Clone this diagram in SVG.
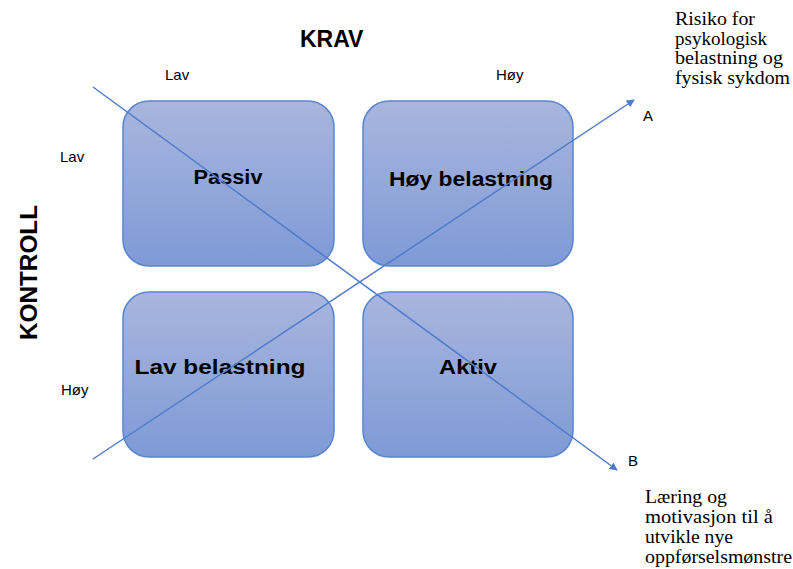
<svg xmlns="http://www.w3.org/2000/svg" width="793" height="569" viewBox="0 0 793 569">
<defs>
<linearGradient id="g" x1="0" y1="0" x2="0" y2="1">
<stop offset="0" stop-color="#a9b6de"/>
<stop offset="1" stop-color="#7e9ad6"/>
</linearGradient>
<marker id="arr" viewBox="0 0 10 10" refX="9" refY="5" markerWidth="8" markerHeight="8" markerUnits="userSpaceOnUse" orient="auto">
<path d="M0,0 L10,5 L0,10 z" fill="#4f7bcb"/>
</marker>
<style>
.box{fill:url(#g);stroke:#5a85cf;stroke-width:1.5}
.lbl{font-family:"Liberation Sans",Arial,sans-serif;font-weight:bold;font-size:20px;fill:#000;text-anchor:middle}
.ax{font-family:"Liberation Sans",Arial,sans-serif;font-size:15px;fill:#000}
.ttl{font-family:"Liberation Sans",Arial,sans-serif;font-weight:bold;font-size:23px;fill:#000}
.note{font-family:"Liberation Serif","Times New Roman",serif;font-size:18px;fill:#000}
.ln{stroke:#4f7bcb;stroke-width:1.5;fill:none}
</style>
</defs>
<rect width="793" height="569" fill="#fff"/>
<g id="passiv"><rect class="box" x="123" y="101" width="211" height="165" rx="26"/><text class="lbl" x="228" y="184" textLength="69" lengthAdjust="spacingAndGlyphs">Passiv</text></g>
<g id="hoy-belastning"><rect class="box" x="363" y="101" width="210" height="165" rx="26"/><text class="lbl" x="471" y="186" textLength="164" lengthAdjust="spacingAndGlyphs">Høy belastning</text></g>
<g id="lav-belastning"><rect class="box" x="123" y="292" width="211" height="165" rx="26"/><text class="lbl" x="220" y="374" textLength="171" lengthAdjust="spacingAndGlyphs">Lav belastning</text></g>
<g id="aktiv"><rect class="box" x="363" y="292" width="210" height="165" rx="26"/><text class="lbl" x="468" y="374" textLength="58" lengthAdjust="spacingAndGlyphs">Aktiv</text></g>
<g id="connectors">
<line class="ln" x1="93" y1="87" x2="617" y2="470" marker-end="url(#arr)"/>
<line class="ln" x1="93" y1="459" x2="634" y2="100" marker-end="url(#arr)"/>
</g>
<g id="labels">
<text class="ttl" x="300" y="47">KRAV</text>
<text class="ttl" transform="translate(37,340) rotate(-90)" textLength="135" lengthAdjust="spacingAndGlyphs">KONTROLL</text>
<text class="ax" x="165" y="80">Lav</text>
<text class="ax" x="496" y="80">Høy</text>
<text class="ax" x="60" y="162">Lav</text>
<text class="ax" x="61" y="395">Høy</text>
<text class="ax" x="643" y="121">A</text>
<text class="ax" x="628" y="466">B</text>
<text class="note" x="675" y="25" textLength="80" lengthAdjust="spacingAndGlyphs">Risiko for</text>
<text class="note" x="675" y="45" textLength="92" lengthAdjust="spacingAndGlyphs">psykologisk</text>
<text class="note" x="675" y="64" textLength="108" lengthAdjust="spacingAndGlyphs">belastning og</text>
<text class="note" x="675" y="84" textLength="115" lengthAdjust="spacingAndGlyphs">fysisk sykdom</text>
<text class="note" x="645" y="503" textLength="82" lengthAdjust="spacingAndGlyphs">Læring og</text>
<text class="note" x="645" y="523" textLength="128" lengthAdjust="spacingAndGlyphs">motivasjon til å</text>
<text class="note" x="645" y="543" textLength="88" lengthAdjust="spacingAndGlyphs">utvikle nye</text>
<text class="note" x="645" y="563" textLength="147" lengthAdjust="spacingAndGlyphs">oppførselsmønstre</text>
</g>
</svg>
